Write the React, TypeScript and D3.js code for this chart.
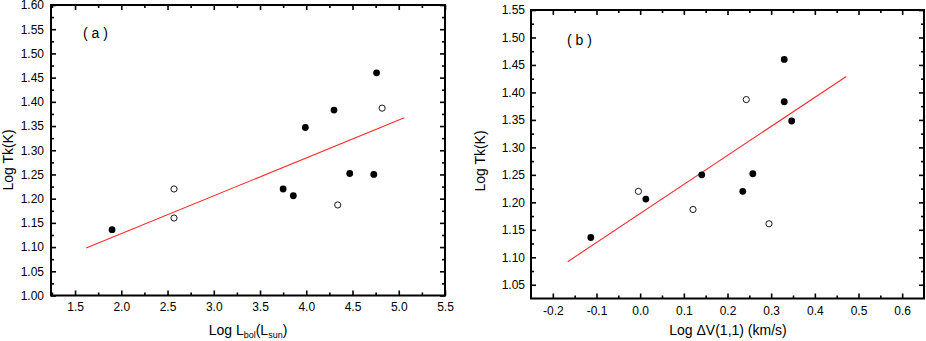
import React from 'react';
import * as d3 from 'd3';

// panel (a): Log Lbol vs Log Tk
const lbolFilled = [1.90, 3.75, 3.86, 3.99, 4.30, 4.47, 4.73, 4.76];
const tkFilledA = [1.136, 1.220, 1.206, 1.347, 1.383, 1.252, 1.250, 1.460];
const lbolOpen = [2.57, 2.57, 4.34, 4.82];
const tkOpenA = [1.220, 1.160, 1.187, 1.387];
const fitA = [[1.62, 1.098], [5.06, 1.367]];

// panel (b): Log dV vs Log Tk
const dvFilled = [-0.113, 0.013, 0.141, 0.235, 0.258, 0.330, 0.330, 0.347];
const tkFilledB = [1.136, 1.206, 1.250, 1.220, 1.252, 1.460, 1.383, 1.348];
const dvOpen = [-0.004, 0.121, 0.243, 0.295];
const tkOpenB = [1.220, 1.187, 1.387, 1.161];
const fitB = [[-0.166, 1.092], [0.472, 1.429]];

const xTicksA = [1.5, 2.0, 2.5, 3.0, 3.5, 4.0, 4.5, 5.0, 5.5];
const yTicksA = [1.00, 1.05, 1.10, 1.15, 1.20, 1.25, 1.30, 1.35, 1.40, 1.45, 1.50, 1.55, 1.60];
const xTicksB = [-0.2, -0.1, 0.0, 0.1, 0.2, 0.3, 0.4, 0.5, 0.6];
const yTicksB = [1.05, 1.10, 1.15, 1.20, 1.25, 1.30, 1.35, 1.40, 1.45, 1.50, 1.55];

const FONT = 'Liberation Sans, Arial, Helvetica, sans-serif';

const mids = (t) => t.slice(1).map((v, i) => (v + t[i]) / 2);

function drawPanel(svg, opts) {
  const { x, y, xTicks, yTicks, xFmt, yFmt, filled, open, fit, label, labelPos, yPad, xPad } = opts;
  const g = svg.append('g');
  const [x0, x1] = x.range();
  const [y0, y1] = y.range(); // y0 bottom, y1 top

  const styleAxis = (sel) => {
    sel.select('.domain').remove();
    sel.selectAll('line').attr('stroke', '#000').attr('stroke-width', 1.6);
    sel.selectAll('text').attr('fill', '#000').style('font-family', FONT).style('font-size', '12px');
  };

  // major + minor ticks on all four sides, pointing in
  const minorX = mids(xTicks).concat([xTicks[0] - (xTicks[1] - xTicks[0]) / 2, xTicks[xTicks.length - 1] + (xTicks[1] - xTicks[0]) / 2])
    .filter((v) => v > x.domain()[0] + 1e-6 && v < x.domain()[1] - 1e-6);
  const minorY = mids(yTicks).concat([yTicks[0] - (yTicks[1] - yTicks[0]) / 2, yTicks[yTicks.length - 1] + (yTicks[1] - yTicks[0]) / 2])
    .filter((v) => v > y.domain()[0] + 1e-6 && v < y.domain()[1] - 1e-6);

  g.append('g').attr('transform', `translate(0,${y0})`)
    .call(d3.axisBottom(x).tickValues(xTicks).tickFormat(xFmt).tickSize(-5).tickPadding(xPad))
    .call(styleAxis);
  g.append('g').attr('transform', `translate(0,${y0})`)
    .call(d3.axisBottom(x).tickValues(minorX).tickFormat(() => '').tickSize(-3))
    .call(styleAxis);
  g.append('g').attr('transform', `translate(0,${y1})`)
    .call(d3.axisTop(x).tickValues(xTicks).tickFormat(() => '').tickSize(-5))
    .call(styleAxis);
  g.append('g').attr('transform', `translate(0,${y1})`)
    .call(d3.axisTop(x).tickValues(minorX).tickFormat(() => '').tickSize(-3))
    .call(styleAxis);

  g.append('g').attr('transform', `translate(${x0},0)`)
    .call(d3.axisLeft(y).tickValues(yTicks).tickFormat(yFmt).tickSize(-5).tickPadding(yPad))
    .call(styleAxis);
  g.append('g').attr('transform', `translate(${x0},0)`)
    .call(d3.axisLeft(y).tickValues(minorY).tickFormat(() => '').tickSize(-3))
    .call(styleAxis);
  g.append('g').attr('transform', `translate(${x1},0)`)
    .call(d3.axisRight(y).tickValues(yTicks).tickFormat(() => '').tickSize(-5))
    .call(styleAxis);
  g.append('g').attr('transform', `translate(${x1},0)`)
    .call(d3.axisRight(y).tickValues(minorY).tickFormat(() => '').tickSize(-3))
    .call(styleAxis);

  // frame
  g.append('rect')
    .attr('x', x0).attr('y', y1)
    .attr('width', x1 - x0).attr('height', y0 - y1)
    .attr('fill', 'none').attr('stroke', '#000').attr('stroke-width', 2);

  // fit line
  g.append('path')
    .datum(fit)
    .attr('d', d3.line().x((d) => x(d[0])).y((d) => y(d[1])))
    .attr('fill', 'none').attr('stroke', '#ff2a2a').attr('stroke-width', 1.1);

  g.selectAll('circle.filled')
    .data(filled)
    .join('circle')
    .attr('class', 'filled')
    .attr('cx', (d) => x(d[0])).attr('cy', (d) => y(d[1]))
    .attr('r', 3.4).attr('fill', '#000');

  g.selectAll('circle.open')
    .data(open)
    .join('circle')
    .attr('class', 'open')
    .attr('cx', (d) => x(d[0])).attr('cy', (d) => y(d[1]))
    .attr('r', 3.1).attr('fill', '#fff').attr('stroke', '#000').attr('stroke-width', 0.9);

  g.append('text')
    .attr('x', labelPos[0]).attr('y', labelPos[1])
    .style('font-family', FONT).style('font-size', '14px')
    .text(label);
}

const App = () => {
  const svgRef = React.useRef(null);

  React.useEffect(() => {
    const svg = d3.select(svgRef.current);
    svg.selectAll('*').remove();

    const fmt1 = (v) => (Math.round(v * 10) / 10).toFixed(1);
    const fmt2 = (v) => (Math.round(v * 100) / 100).toFixed(2);

    // (a)
    const xA = d3.scaleLinear().domain([1.24, 5.5]).range([51, 445]);
    const yA = d3.scaleLinear().domain([1.0, 1.6]).range([295.5, 5]);
    drawPanel(svg, {
      x: xA, y: yA, xTicks: xTicksA, yTicks: yTicksA, xFmt: fmt1, yFmt: fmt2,
      filled: lbolFilled.map((v, i) => [v, tkFilledA[i]]),
      open: lbolOpen.map((v, i) => [v, tkOpenA[i]]),
      fit: fitA, label: '( a )', labelPos: [83, 38], yPad: 7, xPad: 7,
    });

    // (b)
    const xB = d3.scaleLinear().domain([-0.25, 0.65]).range([531, 924]);
    const yB = d3.scaleLinear().domain([1.025, 1.55]).range([298.5, 10]);
    drawPanel(svg, {
      x: xB, y: yB, xTicks: xTicksB, yTicks: yTicksB, xFmt: fmt1, yFmt: fmt2,
      filled: dvFilled.map((v, i) => [v, tkFilledB[i]]),
      open: dvOpen.map((v, i) => [v, tkOpenB[i]]),
      fit: fitB, label: '( b )', labelPos: [567, 45], yPad: 6, xPad: 8,
    });

    // axis titles
    const t = (x, yy, rot) => svg.append('text')
      .attr('transform', `translate(${x},${yy})${rot ? ' rotate(-90)' : ''}`)
      .attr('text-anchor', 'middle')
      .style('font-family', FONT).style('font-size', '14px');

    t(12.5, 160, true).text('Log Tk(K)');
    t(484.5, 161, true).text('Log Tk(K)');

    const xa = t(248, 335, false);
    xa.append('tspan').text('Log L');
    xa.append('tspan').attr('dy', 3).style('font-size', '9px').text('bol');
    xa.append('tspan').attr('dy', -3).text('(L');
    xa.append('tspan').attr('dy', 3).style('font-size', '9px').text('sun');
    xa.append('tspan').attr('dy', -3).text(')');

    t(728, 335, false).text('Log \u0394V(1,1) (km/s)');
  }, []);

  return (
    <svg
      ref={svgRef}
      width={926}
      height={341}
      style={{ position: 'absolute', left: 0, top: 0, background: '#fff' }}
    />
  );
};

export default App;
